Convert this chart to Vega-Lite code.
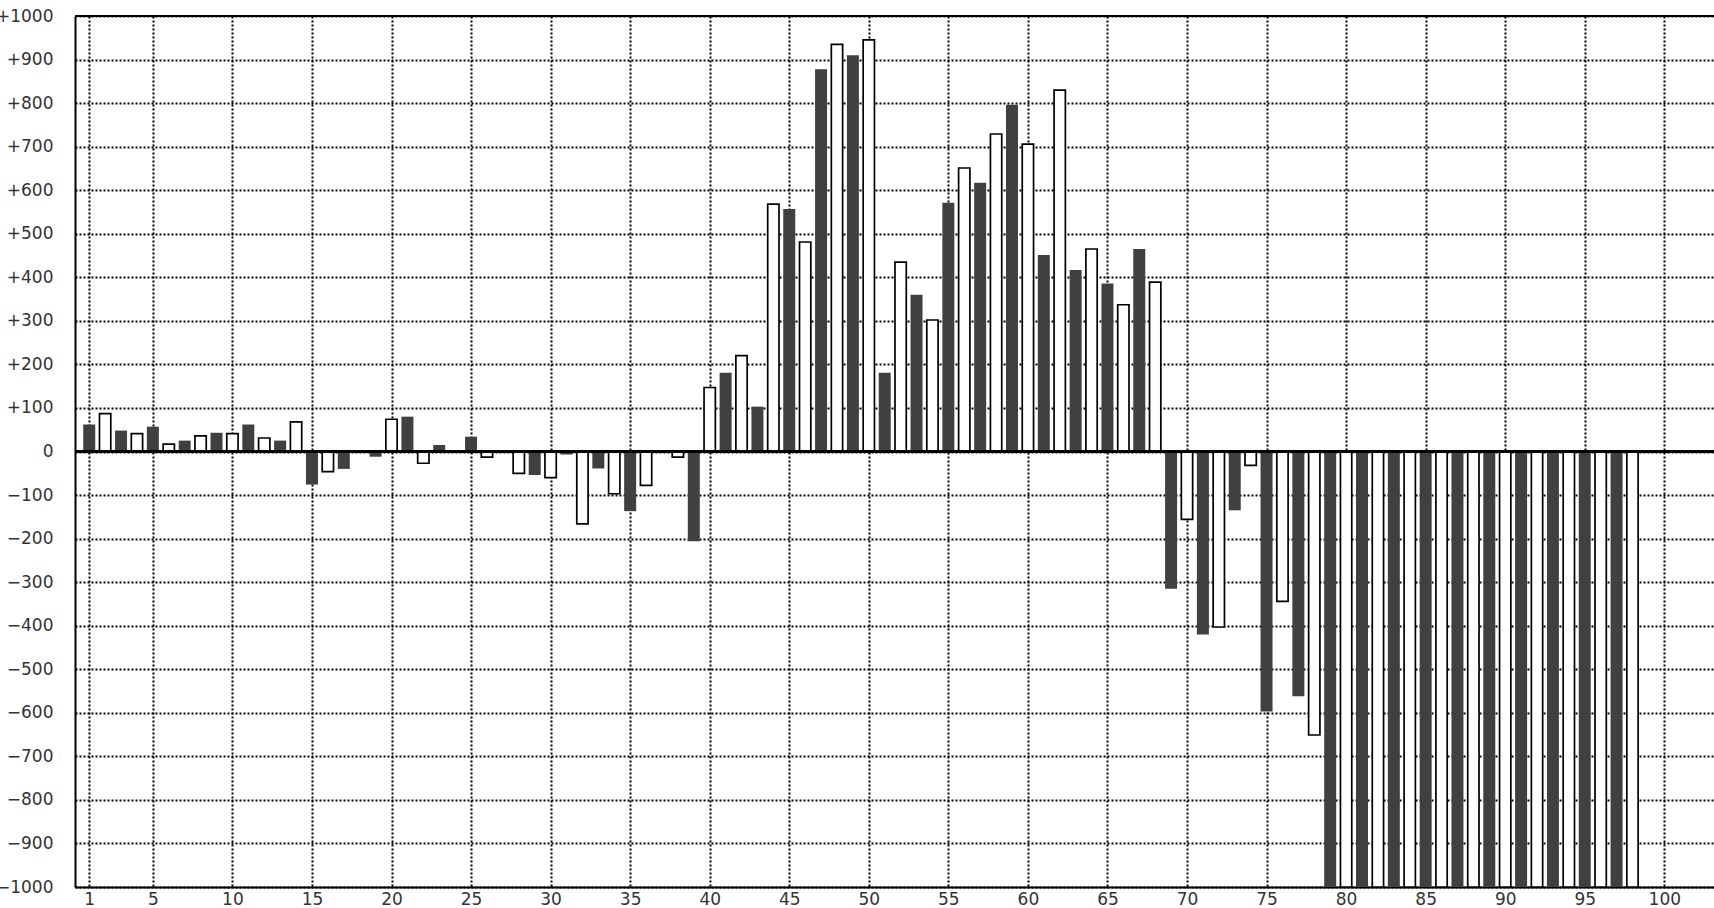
{
  "$schema": "https://vega.github.io/schema/vega-lite/v6.json",
  "width": 1639,
  "height": 871,
  "autosize": {"type": "none"},
  "padding": {"left": 75, "top": 16, "right": 0, "bottom": 21},
  "background": "white",
  "config": {
    "view": {"stroke": null},
    "axis": {
      "labelFont": "DejaVu Sans",
      "labelFontSize": 17,
      "labelColor": "#333333",
      "ticks": false,
      "domainColor": "black",
      "domainWidth": 2,
      "gridColor": "black",
      "gridDash": [2, 2],
      "gridWidth": 2,
      "gridOpacity": 1,
      "title": null
    }
  },
  "data": {
    "values": [
      {"i": 1, "v": 62, "s": "a"}, {"i": 2, "v": 87, "s": "b"}, {"i": 3, "v": 48, "s": "a"}, {"i": 4, "v": 41, "s": "b"},
      {"i": 5, "v": 57, "s": "a"}, {"i": 6, "v": 17, "s": "b"}, {"i": 7, "v": 25, "s": "a"}, {"i": 8, "v": 36, "s": "b"},
      {"i": 9, "v": 43, "s": "a"}, {"i": 10, "v": 41, "s": "b"}, {"i": 11, "v": 62, "s": "a"}, {"i": 12, "v": 31, "s": "b"},
      {"i": 13, "v": 25, "s": "a"}, {"i": 14, "v": 68, "s": "b"}, {"i": 15, "v": -76, "s": "a"}, {"i": 16, "v": -46, "s": "b"},
      {"i": 17, "v": -40, "s": "a"}, {"i": 18, "v": 0, "s": "b"}, {"i": 19, "v": -12, "s": "a"}, {"i": 20, "v": 74, "s": "b"},
      {"i": 21, "v": 80, "s": "a"}, {"i": 22, "v": -27, "s": "b"}, {"i": 23, "v": 15, "s": "a"}, {"i": 24, "v": 0, "s": "b"},
      {"i": 25, "v": 34, "s": "a"}, {"i": 26, "v": -13, "s": "b"}, {"i": 27, "v": 0, "s": "a"}, {"i": 28, "v": -50, "s": "b"},
      {"i": 29, "v": -54, "s": "a"}, {"i": 30, "v": -60, "s": "b"}, {"i": 31, "v": -7, "s": "a"}, {"i": 32, "v": -166, "s": "b"},
      {"i": 33, "v": -39, "s": "a"}, {"i": 34, "v": -97, "s": "b"}, {"i": 35, "v": -137, "s": "a"}, {"i": 36, "v": -78, "s": "b"},
      {"i": 37, "v": 0, "s": "a"}, {"i": 38, "v": -13, "s": "b"}, {"i": 39, "v": -206, "s": "a"}, {"i": 40, "v": 147, "s": "b"},
      {"i": 41, "v": 181, "s": "a"}, {"i": 42, "v": 220, "s": "b"}, {"i": 43, "v": 103, "s": "a"}, {"i": 44, "v": 568, "s": "b"},
      {"i": 45, "v": 557, "s": "a"}, {"i": 46, "v": 481, "s": "b"}, {"i": 47, "v": 878, "s": "a"}, {"i": 48, "v": 935, "s": "b"},
      {"i": 49, "v": 910, "s": "a"}, {"i": 50, "v": 945, "s": "b"}, {"i": 51, "v": 181, "s": "a"}, {"i": 52, "v": 435, "s": "b"},
      {"i": 53, "v": 360, "s": "a"}, {"i": 54, "v": 302, "s": "b"}, {"i": 55, "v": 571, "s": "a"}, {"i": 56, "v": 651, "s": "b"},
      {"i": 57, "v": 617, "s": "a"}, {"i": 58, "v": 729, "s": "b"}, {"i": 59, "v": 796, "s": "a"}, {"i": 60, "v": 706, "s": "b"},
      {"i": 61, "v": 451, "s": "a"}, {"i": 62, "v": 830, "s": "b"}, {"i": 63, "v": 417, "s": "a"}, {"i": 64, "v": 465, "s": "b"},
      {"i": 65, "v": 386, "s": "a"}, {"i": 66, "v": 337, "s": "b"}, {"i": 67, "v": 465, "s": "a"}, {"i": 68, "v": 389, "s": "b"},
      {"i": 69, "v": -315, "s": "a"}, {"i": 70, "v": -156, "s": "b"}, {"i": 71, "v": -420, "s": "a"}, {"i": 72, "v": -403, "s": "b"},
      {"i": 73, "v": -135, "s": "a"}, {"i": 74, "v": -32, "s": "b"}, {"i": 75, "v": -597, "s": "a"}, {"i": 76, "v": -344, "s": "b"},
      {"i": 77, "v": -562, "s": "a"}, {"i": 78, "v": -651, "s": "b"}, {"i": 79, "v": -1000, "s": "a"}, {"i": 80, "v": -1000, "s": "b"},
      {"i": 81, "v": -1000, "s": "a"}, {"i": 82, "v": -1000, "s": "b"}, {"i": 83, "v": -1000, "s": "a"}, {"i": 84, "v": -1000, "s": "b"},
      {"i": 85, "v": -1000, "s": "a"}, {"i": 86, "v": -1000, "s": "b"}, {"i": 87, "v": -1000, "s": "a"}, {"i": 88, "v": -1000, "s": "b"},
      {"i": 89, "v": -1000, "s": "a"}, {"i": 90, "v": -1000, "s": "b"}, {"i": 91, "v": -1000, "s": "a"}, {"i": 92, "v": -1000, "s": "b"},
      {"i": 93, "v": -1000, "s": "a"}, {"i": 94, "v": -1000, "s": "b"}, {"i": 95, "v": -1000, "s": "a"}, {"i": 96, "v": -1000, "s": "b"},
      {"i": 97, "v": -1000, "s": "a"}, {"i": 98, "v": -1000, "s": "b"}
    ]
  },
  "layer": [
    {
      "mark": {"type": "bar", "clip": true},
      "encoding": {
        "x": {
          "field": "i",
          "type": "quantitative",
          "scale": {"domain": [0.42, 102.81], "nice": false, "zero": false},
          "axis": {
            "values": [1, 5, 10, 15, 20, 25, 30, 35, 40, 45, 50, 55, 60, 65, 70, 75, 80, 85, 90, 95, 100],
            "grid": true,
            "labelPadding": 4,
            "labelBaseline": "top",
            "labelFlush": false,
            "labelOverlap": false
          }
        },
        "y": {
          "field": "v",
          "type": "quantitative",
          "scale": {"domain": [-1000, 1000], "nice": false},
          "axis": {
            "values": [-1000, -900, -800, -700, -600, -500, -400, -300, -200, -100, 0, 100, 200, 300, 400, 500, 600, 700, 800, 900, 1000],
            "grid": true,
            "labelPadding": 22,
            "labelFlush": false,
            "labelOverlap": false,
            "labelExpr": "datum.value > 0 ? '+' + datum.value : (datum.value < 0 ? '\u2212' + (-datum.value) : '0')"
          }
        },
        "fill": {"field": "s", "type": "nominal", "scale": {"domain": ["a", "b"], "range": ["#404040", "#ffffff"]}, "legend": null},
        "stroke": {"field": "s", "type": "nominal", "scale": {"domain": ["a", "b"], "range": ["#404040", "#000000"]}, "legend": null},
        "strokeWidth": {"field": "s", "type": "ordinal", "scale": {"domain": ["a", "b"], "range": [0, 1.7]}, "legend": null},
        "size": {"field": "s", "type": "ordinal", "scale": {"domain": ["a", "b"], "range": [12, 11.3]}, "legend": null}
      }
    },
    {
      "mark": {"type": "rule", "color": "black", "strokeWidth": 2},
      "encoding": {"y": {"datum": 0}}
    },
    {
      "mark": {"type": "rule", "color": "black", "strokeWidth": 2},
      "encoding": {"y": {"datum": 1000}}
    }
  ]
}
